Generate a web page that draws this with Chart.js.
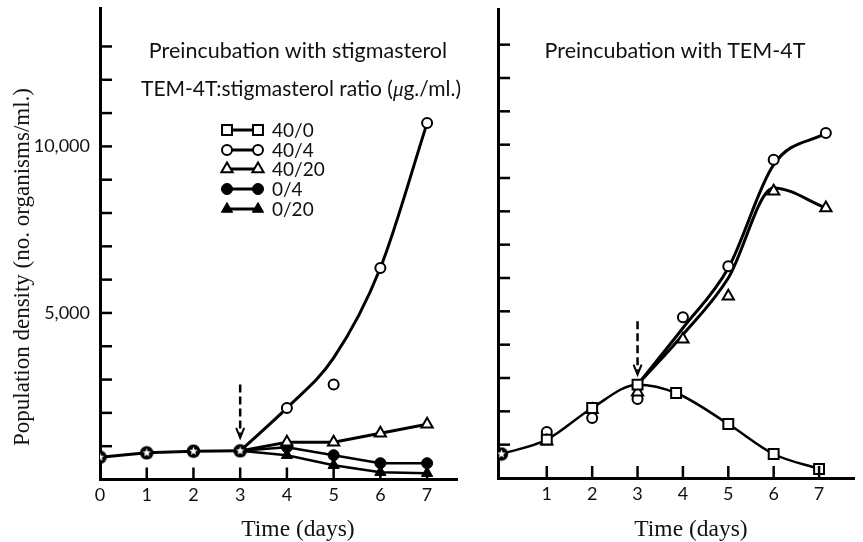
<!DOCTYPE html>
<html>
<head>
<meta charset="utf-8">
<script src="https://cdn.jsdelivr.net/npm/chart.js@4.4.1/dist/chart.umd.min.js"></script>
<style>
  html, body { margin: 0; padding: 0; background: #fff; }
  #wrap { position: relative; width: 863px; height: 542px; overflow: hidden; }
  canvas { position: absolute; top: 0; }
  #leftChart { left: 0; }
  #rightChart { left: 480px; }
  .txt { position: absolute; white-space: nowrap; color: #111; transform: translate(-50%, -50%); }
  .sans { font-family: Lato, "Open Sans", sans-serif; }
  .serif { font-family: "Liberation Serif", "DejaVu Serif", serif; }
</style>
</head>
<body>
<div id="wrap">
  <canvas id="leftChart" width="480" height="542"></canvas>
  <canvas id="rightChart" width="383" height="542"></canvas>

  <div class="txt sans" style="left:298px; top:50px; font-size:21.5px">Preincubation with stigmasterol</div>
  <div class="txt sans" style="left:301px; top:88px; font-size:21px">TEM-4T:stigmasterol ratio (<i class="serif">μ</i>g./ml.)</div>
  <div class="txt sans" style="left:675px; top:50px; font-size:21.5px">Preincubation with TEM-4T</div>

  <div class="txt serif" style="left:298px; top:528px; font-size:23.5px">Time (days)</div>
  <div class="txt serif" style="left:691px; top:528px; font-size:23.5px">Time (days)</div>
  <div class="txt serif" style="left:22px; top:267px; font-size:23px; transform:translate(-50%,-50%) rotate(-90deg)">Population density (no. organisms/ml.)</div>
</div>

<script>
// values, population in organisms/ml

const legendLabels = ['40/0', '40/4', '40/20', '0/4', '0/20'];

// left panel - preincubation with stigmasterol
const leftStarDays = [0, 1, 2, 3];
const leftStarPop = [670, 800, 850, 860];
const leftDays = [4, 5, 6, 7];
const left40_4 = [2150, 2850, 6350, 10700];
const left40_20 = [1120, 1120, 1390, 1660];
const left0_4 = [970, 730, 490, 490];
const left0_20 = [730, 430, 220, 190];
// the hand drawn curve for 40/4
const leftCurveDays = [3, 4, 5, 6, 7];
const left40_4Curve = [860, 2150, 3650, 6350, 10700];

// right panel - preincubation with TEM-4T
const rightStarDays = [0];
const rightStarPop = [720];
const rightDays = [1, 2, 3, 4, 5, 6, 7.15];
const right40_4 = [1380, 1800, 2370, 4820, 6350, 9550, 10350];
const right40_20 = [1100, 2050, 2570, 4160, 5450, 8600, 8100];
const rightSqDays = [1, 2, 3, 3.85, 5, 6, 7];
const right40_0 = [1150, 2100, 2800, 2550, 1620, 720, 270];
const rightLineDays = [0, 1, 2, 3, 3.85, 5, 6, 7];
const right40_0Line = [720, 1150, 2100, 2800, 2550, 1620, 720, 270];
const rightCurveDays = [3, 4, 5, 6, 7.15];
const right40_4Curve = [2800, 4500, 6300, 9400, 10350];
const right40_20Curve = [2800, 4300, 6000, 8700, 8100];

// axes
const xTicksLeft = [0, 1, 2, 3, 4, 5, 6, 7];
const xTicksRight = [1, 2, 3, 4, 5, 6, 7];
const yMarks = [1000, 2000, 3000, 4000, 5000, 6000, 7000, 8000, 9000, 10000, 11000, 12000, 13000];
const yLabelled = [5000, 10000];

// dashed arrows at the time of transfer (day, from, to)
const arrowLeft = [3, 2850, 1250];
const arrowRight = [3, 4700, 3100];


// star in a black disc, used for the common starting cultures
function makeStar() {
  const c = document.createElement('canvas');
  c.width = 15; c.height = 15;
  const g = c.getContext('2d');
  g.fillStyle = '#000';
  g.beginPath(); g.arc(7.5, 7.5, 6.8, 0, Math.PI * 2); g.fill();
  g.fillStyle = '#fff';
  g.beginPath();
  for (let i = 0; i < 10; i++) {
    const r = i % 2 ? 1.9 : 4.4;
    const a = -Math.PI / 2 + i * Math.PI / 5;
    g.lineTo(7.5 + r * Math.cos(a), 7.5 + r * Math.sin(a));
  }
  g.closePath(); g.fill();
  return c;
}
const starImg = makeStar();

const styles = {
  square: { pointStyle: 'rect', pointRadius: 7, pointBackgroundColor: '#fff', pointBorderColor: '#000', pointBorderWidth: 2 },
  circle: { pointStyle: 'circle', pointRadius: 5, pointBackgroundColor: '#fff', pointBorderColor: '#000', pointBorderWidth: 2 },
  tri: { pointStyle: 'triangle', pointRadius: 6.5, pointBackgroundColor: '#fff', pointBorderColor: '#000', pointBorderWidth: 2 },
  dot: { pointStyle: 'circle', pointRadius: 5.5, pointBackgroundColor: '#000', pointBorderColor: '#000', pointBorderWidth: 1 },
  fillTri: { pointStyle: 'triangle', pointRadius: 6.5, pointBackgroundColor: '#000', pointBorderColor: '#000', pointBorderWidth: 1 },
  star: { pointStyle: starImg, pointRadius: 7, pointBackgroundColor: '#000', pointBorderColor: '#000', pointBorderWidth: 0 }
};
const legendStyles = [styles.square, styles.circle, styles.tri, styles.dot, styles.fillTri];

function pts(xs, ys) {
  return xs.map((x, i) => ({ x: x, y: ys[i] }));
}

function markers(xs, ys, st) {
  return Object.assign({ data: pts(xs, ys), showLine: false, order: 0, pointHoverRadius: st.pointRadius }, st);
}

function line(xs, ys, w, smooth) {
  return {
    data: pts(xs, ys), showLine: true, borderColor: '#000', borderWidth: w,
    pointRadius: 0, pointHoverRadius: 0, order: 1, fill: false, tension: 0,
    cubicInterpolationMode: smooth ? 'monotone' : 'default'
  };
}

// inward tick marks, arrows and the legend
const figurePlugin = {
  id: 'figure',
  afterDraw(chart, args, opts) {
    const ctx = chart.ctx;
    const ca = chart.chartArea;
    const xs = chart.scales.x, ys = chart.scales.y;
    ctx.save();
    ctx.strokeStyle = '#000';
    ctx.lineWidth = 2.5;
    opts.xMarks.forEach(d => {
      if (d === 0) return;
      const px = xs.getPixelForValue(d);
      ctx.beginPath(); ctx.moveTo(px, ca.bottom); ctx.lineTo(px, ca.bottom - 12); ctx.stroke();
    });
    yMarks.forEach(v => {
      const py = ys.getPixelForValue(v);
      ctx.beginPath(); ctx.moveTo(ca.left, py); ctx.lineTo(ca.left + 12, py); ctx.stroke();
    });

    // dashed arrow
    const a = opts.arrow;
    const ax = xs.getPixelForValue(a[0]);
    const y1 = ys.getPixelForValue(a[1]);
    const y2 = ys.getPixelForValue(a[2]);
    ctx.lineWidth = 2.5;
    ctx.setLineDash([8, 4]);
    ctx.beginPath(); ctx.moveTo(ax, y1); ctx.lineTo(ax, y2 - 3); ctx.stroke();
    ctx.setLineDash([]);
    ctx.lineWidth = 2;
    ctx.beginPath();
    ctx.moveTo(ax - 4, y2 - 10); ctx.lineTo(ax, y2); ctx.lineTo(ax + 4, y2 - 10);
    ctx.stroke();

    if (opts.legend) {
      const rows = [130, 150, 169, 189, 209];
      ctx.font = '19px Lato, "Open Sans", sans-serif';
      ctx.textBaseline = 'middle';
      ctx.textAlign = 'left';
      legendLabels.forEach((lab, i) => {
        const st = legendStyles[i];
        const y = rows[i];
        ctx.strokeStyle = '#000';
        ctx.lineWidth = 3;
        ctx.beginPath(); ctx.moveTo(227, y); ctx.lineTo(258, y); ctx.stroke();
        [227, 258].forEach(px => {
          ctx.fillStyle = st.pointBackgroundColor;
          ctx.strokeStyle = st.pointBorderColor;
          ctx.lineWidth = st.pointBorderWidth;
          Chart.helpers.drawPoint(ctx, {
            pointStyle: st.pointStyle, radius: st.pointRadius,
            rotation: 0, borderWidth: st.pointBorderWidth
          }, px, y);
        });
        ctx.fillStyle = '#111';
        ctx.fillText(lab, 272, y + 1);
      });
    }
    ctx.restore();
  }
};

function xScale(min, max, tickDays, height) {
  return {
    type: 'linear', min: min, max: max,
    afterBuildTicks: s => { s.ticks = tickDays.map(v => ({ value: v })); },
    afterFit: s => { s.height = height; s.paddingLeft = 0; s.paddingRight = 0; },
    grid: { display: true, drawOnChartArea: false, drawTicks: false },
    border: { display: true, color: '#000', width: 3 },
    ticks: {
      color: '#111', font: { family: 'Lato', size: 18 }, padding: 5,
      autoSkip: false, maxRotation: 0, callback: v => String(v)
    }
  };
}

function yScale(max, width, labels) {
  return {
    type: 'linear', min: 0, max: max,
    afterBuildTicks: s => { s.ticks = labels.map(v => ({ value: v })); },
    afterFit: s => { s.width = width; s.paddingTop = 0; s.paddingBottom = 0; },
    grid: { display: true, drawOnChartArea: false, drawTicks: false },
    border: { display: true, color: '#000', width: 3 },
    ticks: {
      display: labels.length > 0,
      color: '#111', font: { family: 'Lato', size: 18 }, padding: 10,
      autoSkip: false, callback: v => v.toLocaleString('en-US')
    }
  };
}

function baseOptions(xs, ys, pad, pluginOpts) {
  return {
    responsive: false,
    animation: false,
    events: [],
    layout: { padding: pad },
    scales: { x: xs, y: ys },
    plugins: { legend: { display: false }, tooltip: { enabled: false }, figure: pluginOpts }
  };
}

new Chart(document.getElementById('leftChart').getContext('2d'), {
  type: 'line',
  data: {
    datasets: [
      markers(leftStarDays, leftStarPop, styles.star),
      markers(leftDays, left40_4, styles.circle),
      markers(leftDays, left40_20, styles.tri),
      markers(leftDays, left0_4, styles.dot),
      markers(leftDays, left0_20, styles.fillTri),
      line(leftStarDays, leftStarPop, 3, false),
      line(leftCurveDays, left40_4Curve, 3, true),
      line([3].concat(leftDays), [leftStarPop[3]].concat(left40_20), 3, false),
      line([3].concat(leftDays), [leftStarPop[3]].concat(left0_4), 2.5, false),
      line([3].concat(leftDays), [leftStarPop[3]].concat(left0_20), 2.5, false)
    ]
  },
  options: baseOptions(
    xScale(0, 7.64, xTicksLeft, 62.5),
    yScale(14140, 100, yLabelled),
    { top: 8, right: 23, left: 0, bottom: 0 },
    { xMarks: xTicksLeft, arrow: arrowLeft, legend: true }
  ),
  plugins: [figurePlugin]
});

new Chart(document.getElementById('rightChart').getContext('2d'), {
  type: 'line',
  data: {
    datasets: [
      markers(rightStarDays, rightStarPop, styles.star),
      markers(rightSqDays, right40_0, styles.square),
      markers(rightDays, right40_20, styles.tri),
      markers(rightDays, right40_4, styles.circle),
      line(rightLineDays, right40_0Line, 2.5, true),
      line(rightCurveDays, right40_4Curve, 3, true),
      line(rightCurveDays, right40_20Curve, 3, true)
    ]
  },
  options: baseOptions(
    xScale(-0.075, 7.77, xTicksRight, 64),
    yScale(14070, 18, []),
    { top: 8, right: 0, left: 0, bottom: 0 },
    { xMarks: xTicksRight, arrow: arrowRight, legend: false }
  ),
  plugins: [figurePlugin]
});
</script>
</body>
</html>
